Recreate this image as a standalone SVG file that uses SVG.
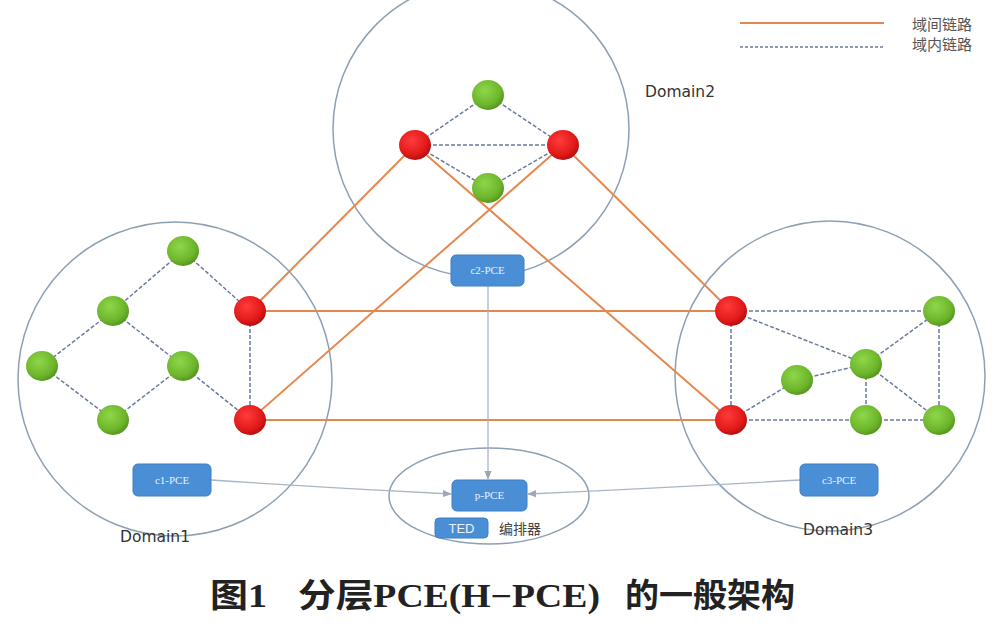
<svg xmlns="http://www.w3.org/2000/svg" width="1000" height="634" viewBox="0 0 1000 634">
<defs>
<radialGradient id="gG" cx="0.4" cy="0.35" r="0.7"><stop offset="0" stop-color="#8fd64a"/><stop offset="0.7" stop-color="#6cb52a"/><stop offset="1" stop-color="#4f8f1c"/></radialGradient>
<radialGradient id="gR" cx="0.4" cy="0.35" r="0.7"><stop offset="0" stop-color="#ff3b3b"/><stop offset="0.7" stop-color="#e01818"/><stop offset="1" stop-color="#a80d0d"/></radialGradient>
<marker id="arr" viewBox="0 0 10 10" refX="9" refY="5" markerWidth="7" markerHeight="7" orient="auto"><path d="M0,1 L10,5 L0,9 z" fill="#9aa8b8"/></marker>
<style>
.dom{fill:none;stroke:#8d9fb3;stroke-width:1.5}
.inter{stroke:#e5884f;stroke-width:2;fill:none}
.intra{stroke:#6a7a9e;stroke-width:1.5;stroke-dasharray:4 2;fill:none}
.ctl{stroke:#a9b6c6;stroke-width:1.3;fill:none;marker-end:url(#arr)}
.g{fill:url(#gG)}
.r{fill:url(#gR)}
.pce{fill:#4a8fd6;stroke:#3f7fc4;stroke-width:1}
.pt{font-family:"Liberation Serif",serif;font-size:11px;fill:#e6f0fb;text-anchor:middle}
.lbl{font-family:"DejaVu Sans","Liberation Sans",sans-serif;font-size:15.5px;fill:#333}
.leg{font-family:"Liberation Serif","Noto Sans CJK SC",serif;font-size:15px;fill:#555}
.ttl{font-family:"Liberation Serif","Noto Sans CJK SC",serif;font-size:33px;font-weight:bold;fill:#222}
</style>
</defs>
<rect width="1000" height="634" fill="#fff"/>
<g id="domains">
<circle id="domain2" class="dom" cx="481" cy="129" r="148"/>
<circle id="domain1" class="dom" cx="175" cy="379" r="157"/>
<circle id="domain3" class="dom" cx="830" cy="376" r="155"/>
<ellipse id="porch" class="dom" cx="489" cy="496" rx="100" ry="48"/>
</g>
<g id="connectors">
<line class="inter" x1="415" y1="145" x2="250" y2="311"/>
<line class="inter" x1="415" y1="145" x2="731" y2="420"/>
<line class="inter" x1="563" y1="145" x2="250" y2="420"/>
<line class="inter" x1="563" y1="145" x2="731" y2="311"/>
<line class="inter" x1="250" y1="311" x2="731" y2="311"/>
<line class="inter" x1="250" y1="420" x2="731" y2="420"/>
<line class="intra" x1="488" y1="95" x2="415" y2="145"/>
<line class="intra" x1="488" y1="95" x2="563" y2="145"/>
<line class="intra" x1="415" y1="145" x2="563" y2="145"/>
<line class="intra" x1="415" y1="145" x2="488" y2="188"/>
<line class="intra" x1="563" y1="145" x2="488" y2="188"/>
<line class="intra" x1="183" y1="251" x2="113" y2="311"/>
<line class="intra" x1="183" y1="251" x2="250" y2="311"/>
<line class="intra" x1="113" y1="311" x2="42" y2="366"/>
<line class="intra" x1="113" y1="311" x2="183" y2="366"/>
<line class="intra" x1="42" y1="366" x2="113" y2="420"/>
<line class="intra" x1="183" y1="366" x2="113" y2="420"/>
<line class="intra" x1="183" y1="366" x2="250" y2="420"/>
<line class="intra" x1="250" y1="311" x2="250" y2="420"/>
<line class="intra" x1="731" y1="311" x2="939" y2="311"/>
<line class="intra" x1="731" y1="311" x2="866" y2="364"/>
<line class="intra" x1="731" y1="311" x2="731" y2="420"/>
<line class="intra" x1="731" y1="420" x2="797" y2="380"/>
<line class="intra" x1="797" y1="380" x2="866" y2="364"/>
<line class="intra" x1="866" y1="364" x2="939" y2="311"/>
<line class="intra" x1="866" y1="364" x2="866" y2="420"/>
<line class="intra" x1="866" y1="364" x2="939" y2="420"/>
<line class="intra" x1="731" y1="420" x2="866" y2="420"/>
<line class="intra" x1="866" y1="420" x2="939" y2="420"/>
<line class="intra" x1="939" y1="311" x2="939" y2="420"/>
<line class="ctl" x1="488" y1="286" x2="488" y2="479"/>
<path class="ctl" d="M211,480 Q330,488 451,494"/>
<path class="ctl" d="M800,480 Q660,488 528,494"/>
</g>
<g id="nodes">
<g id="d2-top"><ellipse class="g" cx="488" cy="95" rx="16" ry="15"/></g>
<g id="d2-left"><ellipse class="r" cx="415" cy="145" rx="16" ry="15"/></g>
<g id="d2-right"><ellipse class="r" cx="563" cy="145" rx="16" ry="15"/></g>
<g id="d2-bottom"><ellipse class="g" cx="488" cy="188" rx="16" ry="15"/></g>
<g id="d1-a"><ellipse class="g" cx="183" cy="251" rx="16" ry="15"/></g>
<g id="d1-b"><ellipse class="g" cx="113" cy="311" rx="16" ry="15"/></g>
<g id="d1-c"><ellipse class="g" cx="42" cy="366" rx="16" ry="15"/></g>
<g id="d1-d"><ellipse class="g" cx="183" cy="366" rx="16" ry="15"/></g>
<g id="d1-e"><ellipse class="g" cx="113" cy="420" rx="16" ry="15"/></g>
<g id="d1-r1"><ellipse class="r" cx="250" cy="311" rx="16" ry="15"/></g>
<g id="d1-r2"><ellipse class="r" cx="250" cy="420" rx="16" ry="15"/></g>
<g id="d3-r1"><ellipse class="r" cx="731" cy="311" rx="16" ry="15"/></g>
<g id="d3-r2"><ellipse class="r" cx="731" cy="420" rx="16" ry="15"/></g>
<g id="d3-a"><ellipse class="g" cx="939" cy="311" rx="16" ry="15"/></g>
<g id="d3-b"><ellipse class="g" cx="866" cy="364" rx="16" ry="15"/></g>
<g id="d3-c"><ellipse class="g" cx="797" cy="380" rx="16" ry="15"/></g>
<g id="d3-d"><ellipse class="g" cx="866" cy="420" rx="16" ry="15"/></g>
<g id="d3-e"><ellipse class="g" cx="939" cy="420" rx="16" ry="15"/></g>
<g id="c2-pce"><rect class="pce" x="451" y="255" width="73" height="31" rx="5"/><text class="pt" x="487.5" y="274">c2-PCE</text></g>
<g id="c1-pce"><rect class="pce" x="133" y="464" width="78" height="32" rx="5"/><text class="pt" x="172" y="484">c1-PCE</text></g>
<g id="c3-pce"><rect class="pce" x="800" y="464" width="78" height="32" rx="5"/><text class="pt" x="839" y="484">c3-PCE</text></g>
<g id="p-pce"><rect class="pce" x="452" y="480" width="75" height="31" rx="5"/><text class="pt" x="489.5" y="499">p-PCE</text></g>
<g id="ted"><rect class="pce" x="435" y="518" width="53" height="20" rx="4"/><text x="461.5" y="533" style="font-family:'Liberation Sans',sans-serif;font-size:13px;fill:#eaf2fb;text-anchor:middle">TED</text>
<text x="499" y="534" style="font-family:'Liberation Serif','Noto Sans CJK SC',serif;font-size:14px;fill:#444">编排器</text></g>
</g>
<g id="labels">
<text class="lbl" x="645" y="97">Domain2</text>
<text class="lbl" x="120" y="542">Domain1</text>
<text class="lbl" x="803" y="535">Domain3</text>
</g>
<g id="legend">
<line class="inter" x1="740" y1="23" x2="884" y2="23"/>
<line class="intra" x1="740" y1="47" x2="884" y2="47" style="stroke-dasharray:3 2;stroke-width:1.3"/>
<text class="leg" x="912" y="30">域间链路</text>
<text class="leg" x="912" y="50">域内链路</text>
</g>
<g id="title">
<text class="ttl" x="210" y="607" textLength="57" lengthAdjust="spacingAndGlyphs">图1</text>
<text class="ttl" x="298" y="607" textLength="302" lengthAdjust="spacingAndGlyphs">分层PCE(H−PCE)</text>
<text class="ttl" x="625" y="607" textLength="170" lengthAdjust="spacingAndGlyphs">的一般架构</text>
</g>
</svg>
